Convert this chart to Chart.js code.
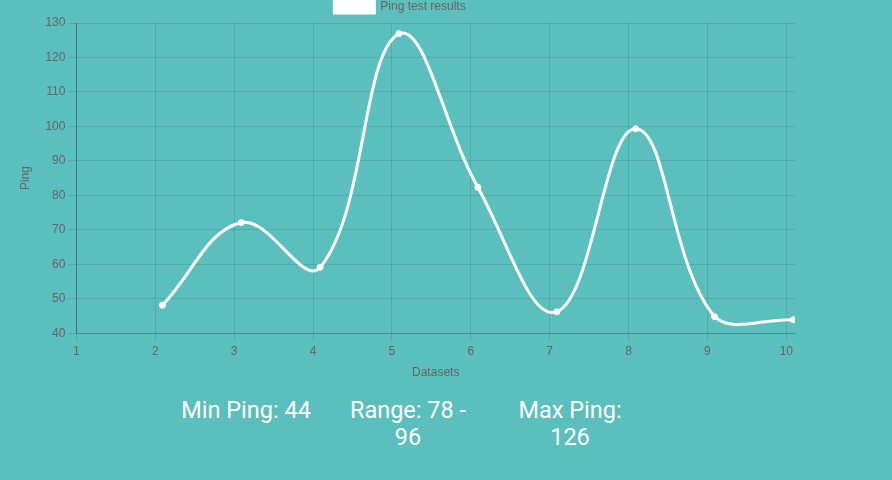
<!DOCTYPE html>
<html>
<head>
<meta charset="utf-8">
<script src="https://cdn.jsdelivr.net/npm/chart.js@4"></script>
<style>
  html, body { margin: 0; padding: 0; background: #5abfbd; overflow: hidden; }
  #wrap { position: relative; width: 800px; height: 388px; }
  .stats { position: absolute; top: 397px; left: 0; width: 892px; }
  .stat {
    position: absolute; width: 136px; text-align: center; color: #fff;
    font-family: Roboto, sans-serif; font-size: 23.5px; line-height: 27px;
  }
</style>
</head>
<body>
<div id="wrap"><canvas id="pingChart"></canvas></div>
<div class="stats">
  <div class="stat" style="left:178px">Min Ping: 44</div>
  <div class="stat" style="left:340px">Range: 78 - 96</div>
  <div class="stat" style="left:502px">Max Ping: 126</div>
</div>
<script>
const runs = [2.09, 3.09, 4.09, 5.09, 6.09, 7.09, 8.09, 9.09, 10.09];
const pings = [48.1, 72.1, 59.1, 126.9, 82.3, 46.2, 99.3, 44.8, 43.9];
const xTicks = [1, 2, 3, 4, 5, 6, 7, 8, 9, 10];

const points = runs.map((x, i) => ({ x, y: pings[i] }));
const tickFont = { family: 'Liberation Sans, Arial, sans-serif', size: 12 };

new Chart(document.getElementById('pingChart'), {
  type: 'line',
  data: {
    datasets: [{
      label: 'Ping test results',
      data: points,
      borderColor: '#fff',
      backgroundColor: '#fff',
      borderWidth: 3,
      pointRadius: 3,
      pointBorderWidth: 1,
      pointBackgroundColor: '#fff',
      tension: 0.4,
      fill: false
    }]
  },
  options: {
    responsive: true,
    maintainAspectRatio: false,
    animation: false,
    layout: { padding: { top: 0, right: 0, left: 0, bottom: 4 } },
    plugins: {
      legend: {
        labels: { color: '#666', font: tickFont, boxWidth: 40, boxHeight: 12, padding: 1 }
      },
      tooltip: { enabled: false }
    },
    scales: {
      x: {
        type: 'linear',
        min: 1,
        max: 10.11,
        afterBuildTicks: s => { s.ticks = xTicks.map(v => ({ value: v })); },
        ticks: { color: '#666', font: tickFont },
        grid: { color: 'rgba(0,0,0,0.1)' },
        border: { color: 'rgba(0,0,0,0.15)' },
        title: { display: true, text: 'Datasets', color: '#666', font: tickFont }
      },
      y: {
        min: 40,
        max: 130,
        ticks: { stepSize: 10, color: '#666', font: tickFont },
        grid: { color: 'rgba(0,0,0,0.1)' },
        border: { color: 'rgba(0,0,0,0.3)' },
        title: { display: true, text: 'Ping', color: '#666', font: tickFont, padding: { top: 18, bottom: 10 } }
      }
    }
  }
});
</script>
</body>
</html>
